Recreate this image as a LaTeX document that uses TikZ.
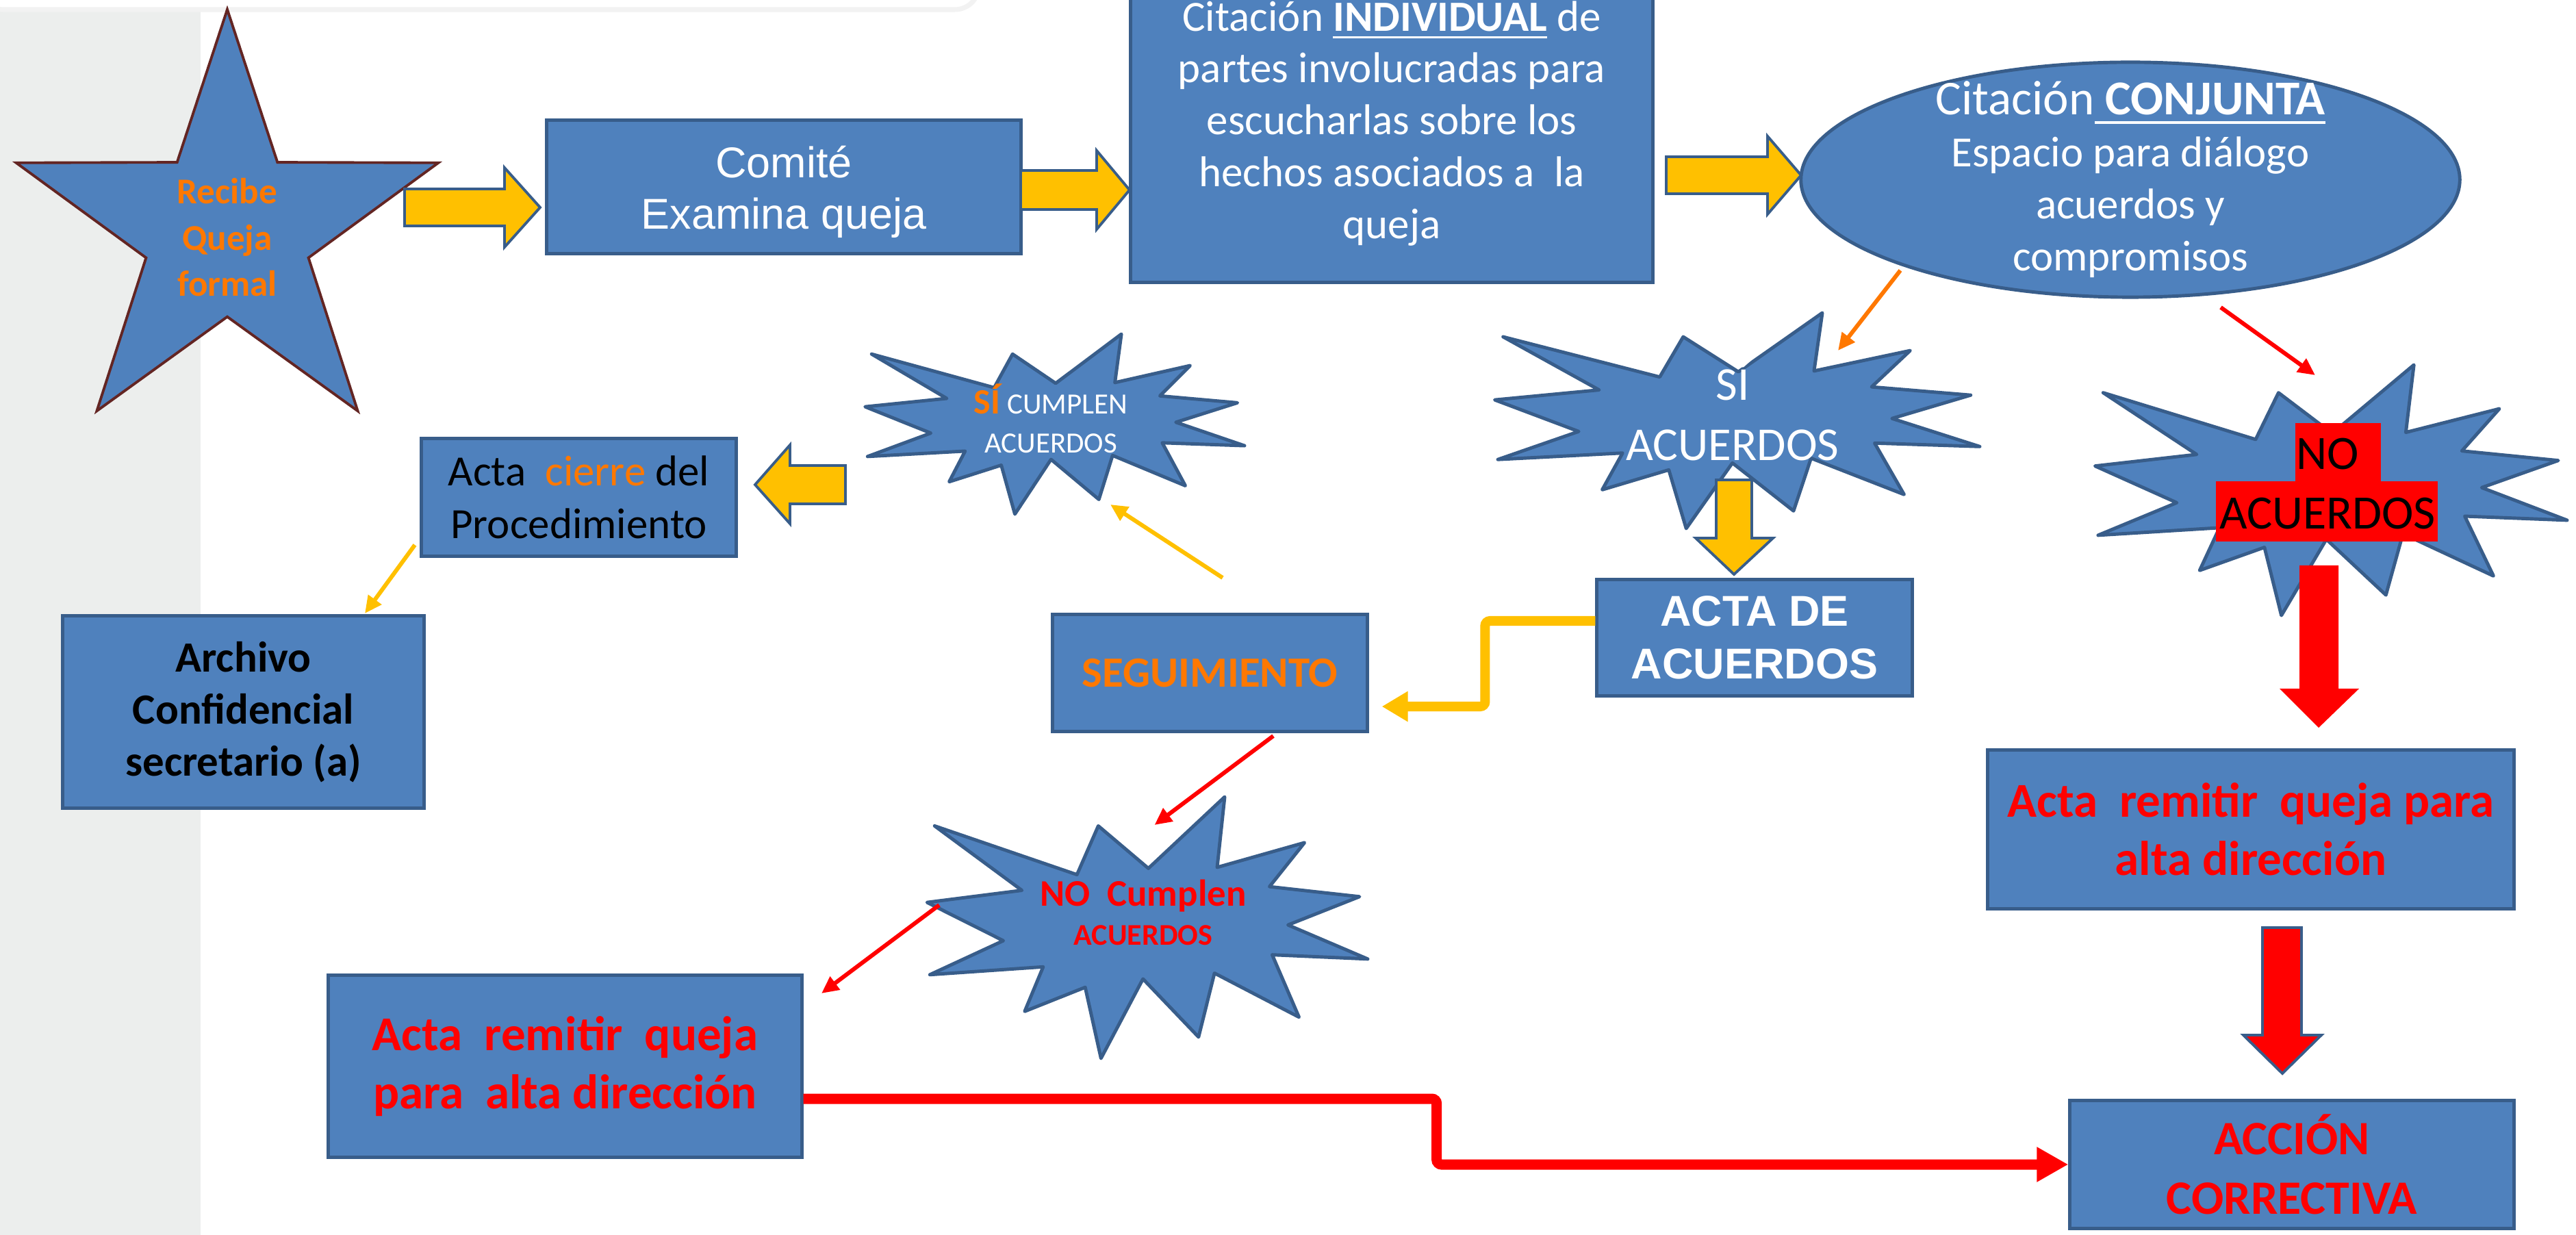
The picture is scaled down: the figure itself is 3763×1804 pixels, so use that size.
\documentclass[tikz,border=0pt]{standalone}
\usepackage{fontspec}
\setmainfont{Carlito}
\newfontfamily\arial{Liberation Sans}
\usetikzlibrary{calc,shapes.geometric,arrows.meta}
\definecolor{azul}{HTML}{4F81BD}
\definecolor{borde}{HTML}{385D8A}
\definecolor{amarillo}{HTML}{FFC000}
\definecolor{naranja}{HTML}{FF7800}
\definecolor{rojo}{HTML}{FF0000}
\definecolor{granate}{HTML}{632523}
\definecolor{gris}{HTML}{ECEEED}
\newcommand{\letra}[2]{\fontsize{#1pt}{#2pt}\selectfont}
\newcommand{\subraya}[1]{\setbox0=\hbox{#1}\rlap{\rule[-0.18em]{\wd0}{0.05em}}\box0\relax}

\begin{document}
\begin{tikzpicture}[x=0.01cm, y=-0.01cm,
        caja/.style={draw=borde, fill=azul, line width=1.4pt, inner sep=0pt, align=center},
        texto/.style={inner sep=0pt, align=center},
        bloque/.style={draw=borde, fill=amarillo, line width=1.1pt},
        estallido/.style={draw=borde, fill=azul, line width=1.4pt, line join=round},
        flechita/.style={line width=0.06cm, -{Triangle[length=0.25cm, width=0.23cm]}},
        codo/.style={rounded corners=2pt}]
    \useasboundingbox (0,0) rectangle (3763,1804);
    \fill[white] (0,0) rectangle (3763,1804);
    \fill[gris] (0,0) rectangle (293,1804);
    \draw[black!5, line width=2pt, fill=white, rounded corners=10pt] (-30,-40) rectangle (1430,14);

    \node[star, star points=5, star point ratio=2.6, minimum size=6.48cm, draw=granate, fill=azul, line width=1.1pt, inner sep=0pt] (queja) at (332,338) {};
    \node[texto, text=naranja, font=\bfseries\letra{15.1}{19.2}] (queja-txt) at (332,347) {Recibe\\Queja\\formal};
    \node[caja, minimum width=6.92cm, minimum height=1.94cm, text=white, font=\arial\letra{17.9}{21.3}] (comite) at (1145,273) {\rule{0pt}{17.4pt}Comité\\Examina queja};
    \node[caja, minimum width=7.62cm, minimum height=4.63cm, text=white, font=\letra{17.9}{21.6}] (individual) at (2033,180.5) {Citación \subraya{\textbf{INDIVIDUAL}} de\\partes involucradas para\\escucharlas sobre los\\hechos asociados a\ \ la\\queja};
    \node[ellipse, draw=borde, fill=azul, line width=1.4pt, minimum width=9.62cm, minimum height=3.43cm] (conjunta) at (3112,262.5) {};
    \node[texto, text=white, font=\letra{17.9}{21.6}] (conjunta-txt) at (conjunta) {{\letra{20.2}{21.6}Citación\subraya{\ \textbf{CONJUNTA}}}\\Espacio para diálogo\\acuerdos y\\compromisos};

    \foreach \x/\y/\w/\h in {2180/457/712/315, 3057/533/693/366, 1261/488/557/263, 1351/1164/647/382}
        \draw[estallido, shift={(\x,\y)}, xscale=\w/100, yscale=\h/100] (50.47,27.34) -- (39.16,11.11) -- (34.34,29.75) -- (2.20,11.11) -- (21.91,35.75) -- (0.49,40.36) -- (17.72,55.00) -- (1.13,68.00) -- (26.72,65.00) -- (22.54,82.03) -- (36.20,72.82) -- (39.77,100) -- (49.25,69.62) -- (61.80,91.85) -- (65.39,67.41) -- (84.48,84.24) -- (78.42,60.39) -- (100,62.00) -- (81.99,48.98) -- (98.14,38.16) -- (77.81,34.34) -- (85.73,17.50) -- (66.00,26.95) -- (67.70,0) -- cycle;

    \node[texto, text=white, font=\letra{19.6}{24.75}] (siacu) at (2531,600) {SÍ\\ACUERDOS};
    \fill[rojo] (3353,618) rectangle (3478,703);
    \fill[rojo] (3237,703) rectangle (3561,791);
    \node[texto, font=\letra{19.9}{24.75}] (noacu) at (3400,706.5) {NO\\ACUERDOS};
    \node[texto, text=white, font=\letra{12.2}{16.1}] (sicump) at (1535,611) {{\bfseries\letra{14.8}{16.1}\color{naranja}SÍ} CUMPLEN\\ACUERDOS};
    \node[texto, text=rojo, font=\bfseries\letra{12.5}{16.2}] (nocump) at (1670,1332.5) {{\letra{15.6}{16.2}NO\ \ Cumplen}\\ACUERDOS};

    \node[caja, minimum width=4.60cm, minimum height=1.69cm, text=white, font=\arial\bfseries\letra{17.9}{21.9}] (actaacu) at (2563,931.5) {ACTA DE\\ACUERDOS};
    \node[caja, minimum width=4.59cm, minimum height=1.70cm, text=naranja, font=\bfseries\letra{17.9}{21.6}] (seguimiento) at (1767.5,983) {SEGUIMIENTO};
    \node[caja, minimum width=4.59cm, minimum height=1.71cm, font=\letra{17.9}{21.9}] (cierre) at (845.5,726.5) {Acta\ \ {\color{naranja}cierre} del\\Procedimiento};
    \node[caja, minimum width=5.27cm, minimum height=2.80cm, font=\bfseries\letra{17.9}{21.6}] (archivo) at (355.5,1040) {Archivo\\Confidencial\\secretario (a)};
    \node[caja, minimum width=7.68cm, minimum height=2.31cm, text=rojo, font=\bfseries\letra{20.2}{24.2}] (remitirder) at (3288,1211.5) {Acta\ \ remitir\ \ queja para\\alta dirección};
    \node[caja, minimum width=6.91cm, minimum height=2.65cm, text=rojo, font=\bfseries\letra{20.2}{24.2}] (remitirizq) at (825.5,1557.5) {Acta\ \ remitir\ \ queja\\para\ \ alta dirección};
    \node[caja, minimum width=6.48cm, minimum height=1.86cm, text=rojo, font=\bfseries\letra{19.9}{24.75}] (correctiva) at (3348,1701) {ACCIÓN\\CORRECTIVA};

    \draw[bloque] (591,276) -- (737,276) -- (737,245) -- (789,303) -- (737,361) -- (737,330) -- (591,330) -- cycle;
    \draw[bloque] (1491,249) -- (1602,249) -- (1602,220) -- (1650,277.5) -- (1602,335) -- (1602,306) -- (1491,306) -- cycle;
    \draw[bloque] (2434,229) -- (2582,229) -- (2582,199) -- (2631,256) -- (2582,313) -- (2582,283) -- (2434,283) -- cycle;
    \draw[bloque] (2507,701) -- (2559,701) -- (2559,786) -- (2590,786) -- (2533,839) -- (2477,786) -- (2507,786) -- cycle;
    \draw[bloque] (1235,680) -- (1154,680) -- (1154,650) -- (1103,708) -- (1154,765) -- (1154,736) -- (1235,736) -- cycle;
    \fill[rojo] (3359,826) -- (3416,826) -- (3416,1006) -- (3446,1006) -- (3387,1063) -- (3330,1006) -- (3359,1006) -- cycle;
    \draw[bloque, fill=rojo] (3305,1355) -- (3362,1355) -- (3362,1512) -- (3391,1512) -- (3334,1568) -- (3277,1512) -- (3305,1512) -- cycle;

    \draw[flechita, naranja] ($(conjunta)+(-336,132.5)$) -- ($(siacu)+(154,-88)$);
    \draw[flechita, rojo] ($(conjunta)+(132,186.5)$) -- ($(noacu)+(-18,-158.5)$);
    \draw[flechita, amarillo] ($(seguimiento)+(18.5,-139)$) -- ($(sicump)+(87,126)$);
    \draw[flechita, amarillo] ($(cierre)+(-239.5,69.5)$) -- ($(archivo)+(177.5,-144)$);
    \draw[flechita, rojo] ($(seguimiento)+(92.5,92)$) -- ($(nocump)+(16.5,-127.5)$);
    \draw[flechita, rojo] ($(nocump)+(-298,-10.5)$) -- ($(remitirizq)+(374.5,-106.5)$);

    \draw[codo, amarillo, line width=0.14cm, -{Triangle[length=0.38cm, width=0.42cm]}] ($(actaacu.west)+(0,-24.5)$) -- ++(-161,0) |- ($(seguimiento.east)+(19,49)$);
    \draw[codo, rojo, line width=0.15cm, -{Triangle[length=0.46cm, width=0.48cm]}] ($(remitirizq.east)+(0,47.5)$) -- ++(925,0) |- (correctiva.west);
\end{tikzpicture}
\end{document}
